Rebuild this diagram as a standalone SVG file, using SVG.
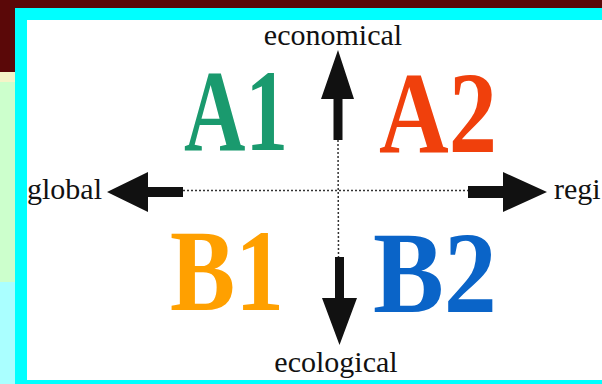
<svg xmlns="http://www.w3.org/2000/svg" width="602" height="384" viewBox="0 0 602 384">
<style>
.axis{font-family:"Liberation Serif","Times New Roman",serif;font-size:30px;fill:#111}
.big{font-family:"Liberation Serif","Times New Roman",serif;font-weight:bold;font-size:116px}
.arrow{fill:#111}
.dot{stroke:#333;stroke-width:1.5;stroke-dasharray:2 2;fill:none}
</style>
<g id="background">
<rect x="0" y="0" width="602" height="384" fill="#aaffff"/>
<rect x="0" y="0" width="602" height="8" fill="#5a0808"/>
<rect x="0" y="0" width="15" height="72" fill="#5a0808"/>
<rect x="0" y="72" width="15" height="10" fill="#f4f4c8"/>
<rect x="0" y="82" width="15" height="200" fill="#ccffcc"/>
<rect x="15" y="8" width="587" height="376" fill="#00ffff"/>
<rect x="27" y="20" width="575" height="360" fill="#ffffff"/>
</g>
<g id="connectors">
<line class="dot" x1="183" y1="190.5" x2="468" y2="190.5"/>
<line class="dot" x1="338" y1="140" x2="338.5" y2="257"/>
<polygon class="arrow" points="333.5,140 333.5,99 321,99 338,50 354,99 342.5,99 342.5,140"/>
<polygon class="arrow" points="335,257 344,257 344,298 357,298 339.5,345 322,298 335,298"/>
<polygon class="arrow" points="183,187 148,187 148,172 107,192 148,212 148,197 183,197"/>
<polygon class="arrow" points="468,186 503,186 503,172 547,192 503,212 503,198 468,198"/>
</g>
<g id="economical"><text class="axis" x="333" y="45" text-anchor="middle">economical</text></g>
<g id="ecological"><text class="axis" x="336" y="372" text-anchor="middle">ecological</text></g>
<g id="global"><text class="axis" x="27" y="199">global</text></g>
<g id="regional"><text class="axis" x="554" y="199">regi</text></g>
<g id="A1"><text class="big" x="184" y="150" textLength="104" lengthAdjust="spacingAndGlyphs" fill="#1a9a6e">A1</text></g>
<g id="A2"><text class="big" x="379" y="152" textLength="118" lengthAdjust="spacingAndGlyphs" fill="#f0400c">A2</text></g>
<g id="B1"><text class="big" x="170" y="310" textLength="114" lengthAdjust="spacingAndGlyphs" fill="#ffa000">B1</text></g>
<g id="B2"><text class="big" x="373" y="312" textLength="124" lengthAdjust="spacingAndGlyphs" fill="#0a64c8">B2</text></g>
</svg>
